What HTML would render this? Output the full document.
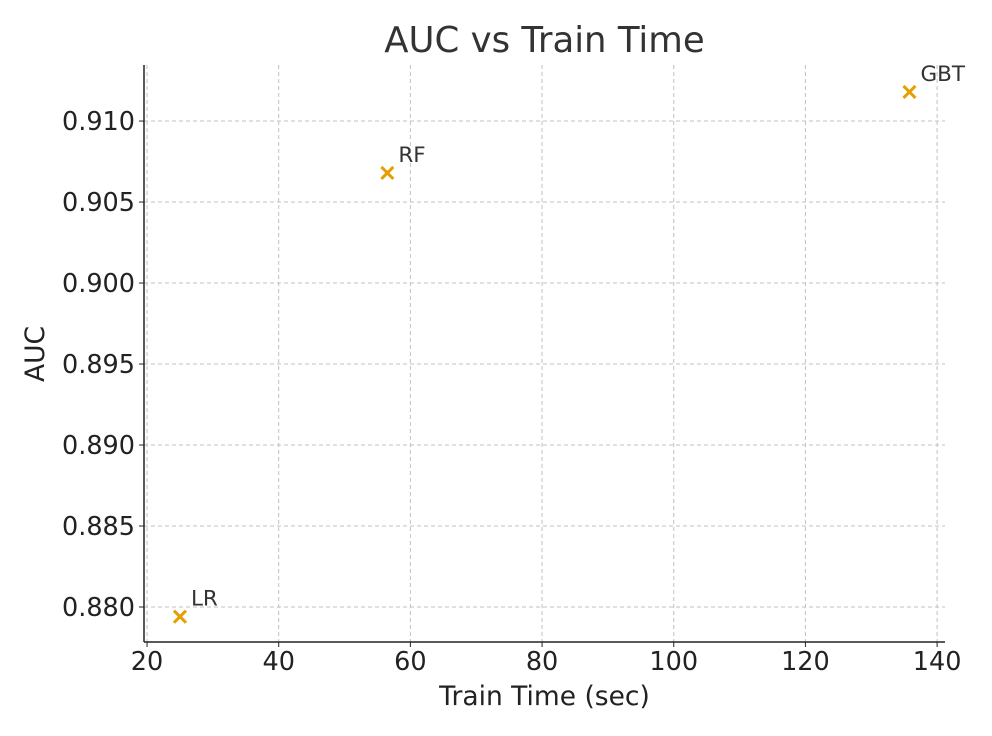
<!DOCTYPE html>
<html><head><meta charset="utf-8"><style>
body{margin:0;background:#fff;}
svg{display:block;font-family:"DejaVu Sans","Liberation Sans",sans-serif;}
</style></head><body>
<svg id="chart" width="992" height="736"></svg>
<script>
const models = ["LR","RF","GBT"];
const trainTimes = [25.0, 56.5, 135.8];
const aucValues = [0.8794, 0.9068, 0.9118];
const xTicks = [20,40,60,80,100,120,140];
const yTicks = [0.880,0.885,0.890,0.895,0.900,0.905,0.910];

const L=144,R=945,T=65,B=642;
const xMin=19.54,xMax=141.2,yMin=0.87784,yMax=0.91346;
const sx=v=>L+(v-xMin)/(xMax-xMin)*(R-L);
const sy=v=>B-(v-yMin)/(yMax-yMin)*(B-T);
const svg=document.getElementById('chart');
const NS='http://www.w3.org/2000/svg';
function mk(tag,attrs,parent){const e=document.createElementNS(NS,tag);for(const k in attrs)e.setAttribute(k,attrs[k]);(parent||svg).appendChild(e);return e;}

xTicks.forEach(t=>{
  const x=sx(t);
  const g=mk('line',{x1:x,x2:x,y1:T,y2:B,stroke:'#c2c2c2','stroke-dasharray':'4,3','stroke-width':1});
  
  
  mk('line',{x1:x,x2:x,y1:B,y2:B+5,stroke:'#222','stroke-width':1});
  const tx=mk('text',{x:x,y:B+28,'text-anchor':'middle','font-size':25.5,fill:'#222'});
  tx.textContent=t;
  
  
});
yTicks.forEach(t=>{
  const y=sy(t);
  const g=mk('line',{x1:L,x2:R,y1:y,y2:y,stroke:'#c2c2c2','stroke-dasharray':'4,3','stroke-width':1});
  
  
  mk('line',{x1:L-5,x2:L,y1:y,y2:y,stroke:'#222','stroke-width':1});
  const tx=mk('text',{x:L-9,y:y+9,'text-anchor':'end','font-size':25.5,fill:'#222'});
  tx.textContent=t.toFixed(3);
  
  
});
const ya=mk('line',{x1:L,x2:L,y1:T,y2:B,stroke:'#222','stroke-width':1.5});


const xa=mk('line',{x1:L,x2:R,y1:B,y2:B,stroke:'#222','stroke-width':1.5});



models.forEach((m,i)=>{
  const x=sx(trainTimes[i]),y=sy(aucValues[i]),d=6;
  const g=mk('g',{});
  
  
  mk('line',{x1:x-d,y1:y-d,x2:x+d,y2:y+d,stroke:'#e69f00','stroke-width':3},g);
  mk('line',{x1:x-d,y1:y+d,x2:x+d,y2:y-d,stroke:'#e69f00','stroke-width':3},g);
  const lb=mk('text',{x:x+11,y:y-11,'font-size':21.5,fill:'#333'});
  lb.textContent=m;
  
  
});

const ti=mk('text',{x:(L+R)/2,y:52,'text-anchor':'middle','font-size':35.5,fill:'#333'});
ti.textContent='AUC vs Train Time';


const xt=mk('text',{x:(L+R)/2,y:705,'text-anchor':'middle','font-size':26.5,fill:'#222'});
xt.textContent='Train Time (sec)';


const yt=mk('text',{x:44,y:354,'text-anchor':'middle','font-size':26.5,fill:'#222',transform:'rotate(-90 44 354)'});
yt.textContent='AUC';


</script>
</body></html>
